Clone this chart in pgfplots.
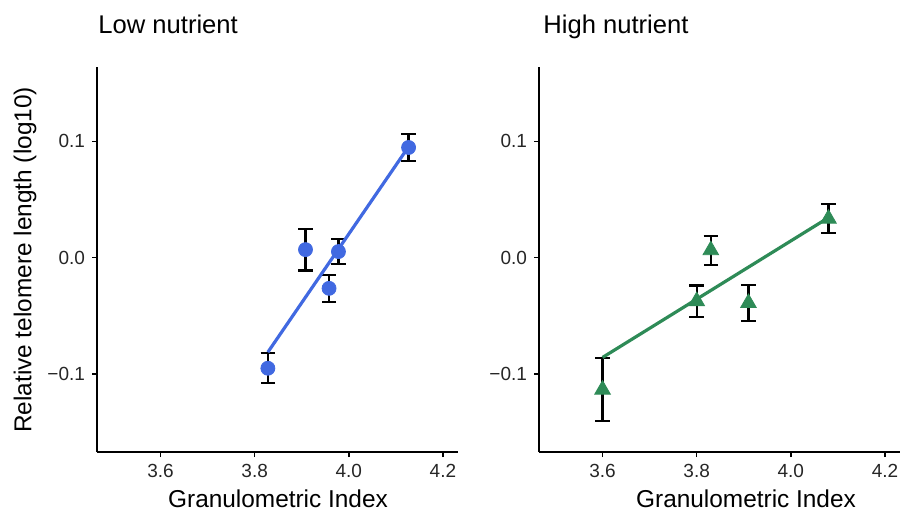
\documentclass[border=0pt]{standalone}
\usepackage{fontspec}
\setmainfont{Liberation Sans}
\usepackage{pgfplots}
\pgfplotsset{compat=1.18}

\definecolor{lowblue}{RGB}{65,105,225}
\definecolor{highgreen}{RGB}{46,139,87}

\pgfplotsset{
  panel/.style={
    width=180.5pt, height=192.5pt, scale only axis,
    xmin=3.465, xmax=4.232, ymin=-0.167, ymax=0.164,
    axis x line*=bottom, axis y line*=left,
    axis line style={line width=0.7pt, black},
    tick align=outside, major tick length=2.5pt,
    tick style={line width=0.7pt, black},
    xtick={3.6,3.8,4.0,4.2}, xticklabels={3.6,3.8,4.0,4.2},
    ytick={-0.1,0,0.1}, yticklabels={−0.1,0.0,0.1},
    ticklabel style={font=\fontsize{9.5}{11}\selectfont, text=black!85},
    clip=false,
  },
  ebar/.style={
    error bars/.cd, y dir=both, y explicit,
    error bar style={line width=1.1pt, black},
    error mark options={line width=1.1pt, mark size=3.6pt, black, rotate=90},
  },
}

\begin{document}
\begin{tikzpicture}
% low nutrient
\begin{axis}[panel, at={(48.5pt,31pt)}, anchor=south west]
\addplot[lowblue, only marks, mark=*, mark size=3.5pt, ebar] coordinates {
  (3.828,-0.0950) +- (0,0.0130)
  (3.908, 0.0070) +- (0,0.0180)
  (3.958,-0.0263) +- (0,0.0118)
  (3.978, 0.0053) +- (0,0.0107)
  (4.127, 0.0948) +- (0,0.0118)
};
\addplot[lowblue, line width=1.6pt] coordinates {(3.828,-0.0812) (4.127,0.0955)};
\end{axis}
% high nutrient
\begin{axis}[panel, at={(269.5pt,31pt)}, anchor=south west]
\addplot[highgreen, only marks, mark=triangle*, mark size=4.5pt, ebar] coordinates {
  (3.600,-0.1134) +- (0,0.0271)
  (3.800,-0.0373) +- (0,0.0134)
  (3.830, 0.0065) +- (0,0.0125)
  (3.910,-0.0389) +- (0,0.0152)
  (4.080, 0.0336) +- (0,0.0126)
};
\addplot[highgreen, line width=1.6pt] coordinates {(3.600,-0.0857) (4.080,0.0345)};
\end{axis}
% titles and labels
\node[anchor=base west, font=\fontsize{12.8}{15}\selectfont, inner sep=0pt] at (49pt,240pt) {Low nutrient};
\node[anchor=base west, font=\fontsize{12.8}{15}\selectfont, inner sep=0pt] at (271.5pt,240pt) {High nutrient};
\node[anchor=base, font=\fontsize{12.2}{14}\selectfont, inner sep=0pt] at (139pt,3.3pt) {Granulometric Index};
\node[anchor=base, font=\fontsize{12.2}{14}\selectfont, inner sep=0pt] at (373pt,3.3pt) {Granulometric Index};
\node[rotate=90, font=\fontsize{12.2}{14}\selectfont, inner sep=0pt] at (12.5pt,127pt) {Relative telomere length (log10)};
\pgfresetboundingbox
\path (0,0) rectangle (457pt,257pt);
\end{tikzpicture}
\end{document}
